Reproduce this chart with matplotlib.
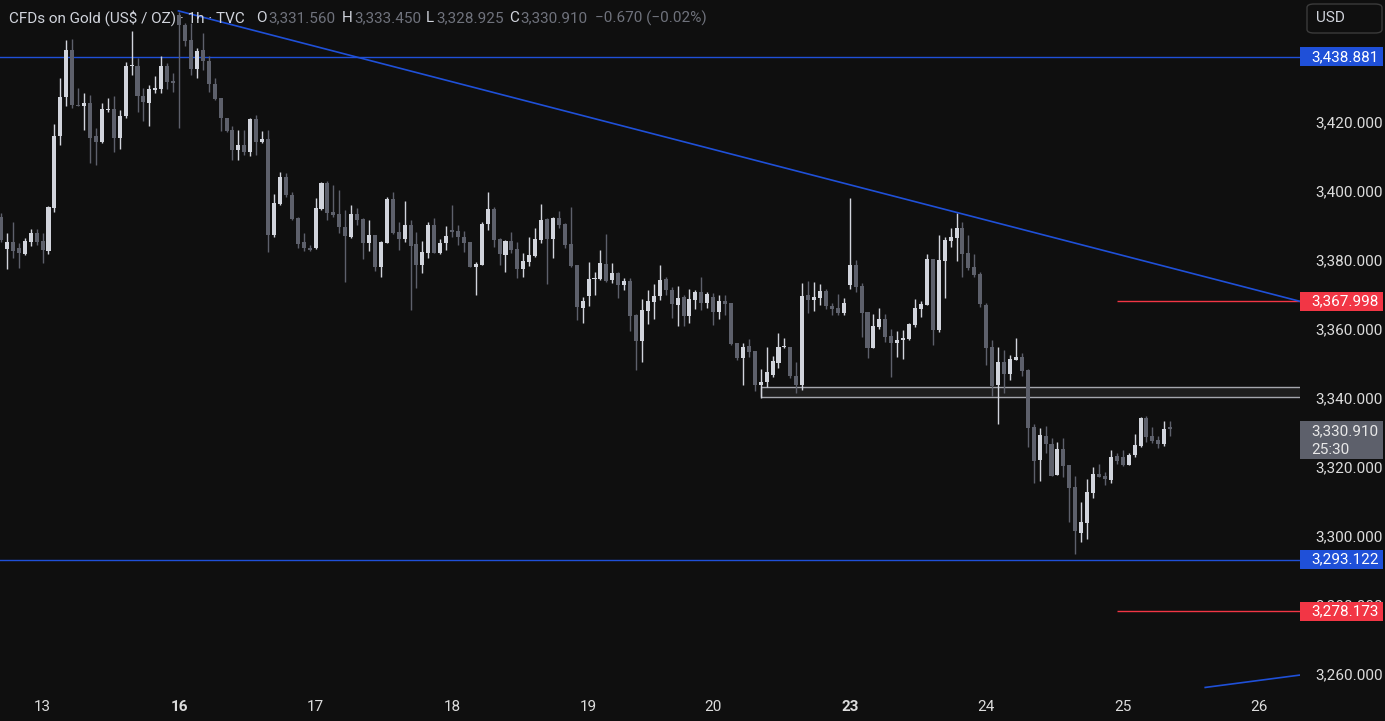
import matplotlib.pyplot as plt
from matplotlib.patches import Rectangle, FancyBboxPatch
from matplotlib.transforms import blended_transform_factory

plt.rcParams['font.family'] = ['Roboto', 'DejaVu Sans']

# hourly candles, CFDs on Gold (TVC)
opens = [3392.6, 3383.1, 3385.2, 3383.4, 3381.8, 3385.2, 3387.8, 3385.6, 3382.7, 3395.2,
         3416.0, 3427.1, 3440.9, 3425.0, 3424.5, 3425.6, 3416.0, 3414.3, 3423.6, 3423.8,
         3415.3, 3421.6, 3436.2, 3436.3, 3427.4, 3425.6, 3429.3, 3429.6, 3436.1, 3432.0,
         3451.0, 3448.0, 3443.8, 3435.4, 3440.9, 3437.7, 3431.0, 3426.9, 3421.3, 3417.7,
         3411.9, 3413.4, 3411.4, 3420.8, 3414.3, 3415.1, 3387.1, 3396.3, 3404.2, 3398.9,
         3392.1, 3385.1, 3383.6, 3383.4, 3394.8, 3402.4, 3394.0, 3393.2, 3389.5, 3386.6,
         3393.3, 3391.9, 3385.0, 3387.3, 3378.1, 3385.0, 3397.7, 3388.1, 3386.1, 3390.2,
         3384.6, 3378.6, 3382.1, 3390.0, 3381.9, 3385.0, 3388.7, 3388.5, 3386.8, 3385.3,
         3378.1, 3378.6, 3390.4, 3394.8, 3386.1, 3381.4, 3385.5, 3383.2, 3377.3, 3379.5,
         3381.3, 3385.8, 3391.9, 3386.1, 3392.3, 3390.4, 3384.6, 3378.6, 3366.0, 3369.7,
         3374.5, 3374.4, 3378.8, 3374.2, 3376.1, 3372.8, 3373.9, 3364.1, 3356.6, 3365.3,
         3367.9, 3369.6, 3374.5, 3371.3, 3367.0, 3369.4, 3363.9, 3368.4, 3370.6, 3367.6,
         3369.4, 3365.0, 3368.1, 3367.6, 3355.9, 3351.7, 3355.1, 3353.6, 3343.8, 3344.7,
         3346.7, 3350.2, 3354.7, 3354.9, 3346.4, 3343.8, 3369.9, 3368.4, 3369.1, 3371.1,
         3366.7, 3366.2, 3364.5, 3372.8, 3378.5, 3372.5, 3364.8, 3354.6, 3360.7, 3362.9,
         3358.1, 3356.0, 3356.8, 3357.0, 3361.2, 3365.8, 3367.0, 3380.3, 3359.7, 3379.8,
         3385.6, 3386.5, 3389.4, 3381.9, 3377.9, 3375.9, 3367.0, 3354.9, 3343.8, 3350.3,
         3346.9, 3351.0, 3351.8, 3348.1, 3331.5, 3322.0, 3329.0, 3326.7, 3317.7, 3325.2,
         3320.6, 3314.3, 3301.0, 3303.9, 3312.6, 3318.0, 3317.5, 3316.2, 3323.2, 3323.0,
         3320.6, 3323.5, 3326.1, 3334.1, 3329.0, 3327.8, 3326.7, 3331.56]
highs = [3393.5, 3387.8, 3391.0, 3384.9, 3386.3, 3388.9, 3388.9, 3387.8, 3395.7, 3419.5,
         3432.7, 3443.8, 3444.0, 3429.8, 3428.3, 3427.8, 3418.2, 3425.4, 3426.9, 3427.4,
         3423.5, 3437.5, 3446.4, 3438.5, 3429.8, 3430.7, 3433.2, 3439.0, 3437.0, 3434.1,
         3452.0, 3448.8, 3448.6, 3441.4, 3445.9, 3439.0, 3432.7, 3426.9, 3421.3, 3418.7,
         3417.7, 3417.7, 3421.1, 3422.1, 3417.5, 3417.7, 3399.1, 3405.4, 3405.1, 3399.6,
         3392.6, 3387.8, 3384.4, 3397.9, 3402.7, 3402.9, 3401.8, 3400.3, 3394.5, 3396.0,
         3395.2, 3392.1, 3391.6, 3387.3, 3385.6, 3398.4, 3399.7, 3391.1, 3397.1, 3391.6,
         3388.2, 3385.6, 3390.9, 3392.1, 3386.0, 3389.9, 3396.0, 3390.0, 3388.4, 3385.3,
         3379.5, 3391.1, 3399.6, 3395.5, 3386.3, 3385.8, 3388.0, 3385.1, 3381.9, 3386.8,
         3389.2, 3396.2, 3392.1, 3392.6, 3394.2, 3390.6, 3395.5, 3378.6, 3369.4, 3379.3,
         3376.6, 3382.9, 3387.5, 3379.1, 3376.6, 3374.9, 3374.7, 3364.3, 3368.7, 3371.3,
         3373.1, 3378.6, 3375.0, 3372.3, 3372.5, 3369.9, 3371.6, 3371.3, 3375.0, 3370.8,
         3370.5, 3369.9, 3369.9, 3367.6, 3355.9, 3355.9, 3357.1, 3353.6, 3348.4, 3354.7,
         3352.2, 3358.7, 3357.3, 3354.9, 3350.3, 3373.3, 3374.0, 3373.7, 3373.1, 3371.5,
         3367.4, 3370.1, 3369.1, 3398.1, 3380.0, 3373.3, 3364.8, 3364.4, 3366.0, 3364.4,
         3359.9, 3359.4, 3359.7, 3361.8, 3368.7, 3368.1, 3381.7, 3380.3, 3387.3, 3386.8,
         3389.2, 3393.5, 3391.1, 3387.3, 3381.7, 3376.6, 3367.6, 3356.8, 3354.9, 3353.9,
         3352.5, 3357.5, 3352.9, 3348.4, 3332.6, 3331.2, 3331.9, 3328.3, 3327.1, 3328.5,
         3320.6, 3317.5, 3309.9, 3316.5, 3320.1, 3320.9, 3318.6, 3324.9, 3324.1, 3324.9,
         3324.2, 3329.6, 3334.6, 3334.8, 3331.5, 3329.0, 3333.4, 3333.45]
lows = [3385.3, 3377.3, 3380.5, 3377.6, 3381.5, 3384.1, 3384.4, 3379.1, 3381.8, 3394.0,
        3413.2, 3424.5, 3424.0, 3424.5, 3417.7, 3408.0, 3407.4, 3413.8, 3423.0, 3411.2,
        3412.1, 3421.1, 3433.7, 3423.0, 3420.4, 3418.7, 3428.3, 3428.3, 3429.5, 3428.7,
        3418.4, 3441.9, 3433.7, 3432.7, 3435.1, 3428.8, 3426.4, 3417.4, 3417.2, 3409.0,
        3409.0, 3410.4, 3410.0, 3410.4, 3414.0, 3382.2, 3386.8, 3396.0, 3398.4, 3391.6,
        3383.4, 3382.7, 3382.7, 3383.1, 3394.5, 3391.6, 3392.6, 3387.8, 3373.5, 3386.3,
        3390.1, 3380.3, 3382.6, 3376.9, 3375.2, 3384.8, 3387.5, 3382.9, 3385.3, 3365.5,
        3371.8, 3376.1, 3380.7, 3381.9, 3381.7, 3382.9, 3386.8, 3384.4, 3382.4, 3378.0,
        3369.9, 3378.5, 3388.7, 3383.7, 3378.6, 3376.6, 3381.9, 3374.9, 3375.2, 3378.4,
        3381.0, 3385.0, 3373.1, 3380.7, 3389.4, 3383.6, 3377.9, 3362.6, 3361.8, 3366.8,
        3369.9, 3374.2, 3373.7, 3373.3, 3369.1, 3371.3, 3359.4, 3348.1, 3350.3, 3361.5,
        3362.9, 3368.4, 3369.9, 3363.3, 3361.0, 3361.0, 3361.7, 3365.7, 3365.5, 3366.2,
        3361.2, 3362.9, 3364.1, 3355.5, 3351.0, 3343.8, 3352.0, 3342.1, 3339.9, 3343.1,
        3346.2, 3348.6, 3354.4, 3345.9, 3341.4, 3342.3, 3364.7, 3365.3, 3367.0, 3365.8,
        3364.1, 3364.1, 3364.1, 3371.6, 3370.6, 3357.8, 3351.5, 3354.4, 3359.9, 3356.3,
        3346.2, 3352.0, 3351.2, 3356.8, 3360.7, 3363.4, 3366.9, 3355.4, 3359.2, 3369.1,
        3383.9, 3379.8, 3375.0, 3377.1, 3375.2, 3366.5, 3349.6, 3340.7, 3332.5, 3341.5,
        3345.2, 3351.0, 3346.4, 3325.9, 3315.5, 3315.9, 3324.1, 3317.5, 3317.6, 3317.2,
        3304.1, 3294.7, 3298.2, 3299.1, 3310.9, 3317.2, 3314.8, 3315.5, 3320.9, 3320.3,
        3320.5, 3323.0, 3325.9, 3327.3, 3326.9, 3325.4, 3326.2, 3328.925]
closes = [3385.8, 3385.2, 3382.7, 3382.0, 3385.6, 3387.8, 3385.1, 3382.9, 3395.5, 3416.0,
          3427.3, 3440.9, 3425.0, 3424.6, 3425.6, 3415.5, 3414.3, 3423.8, 3423.8, 3415.3,
          3421.8, 3436.3, 3436.5, 3427.4, 3425.7, 3429.6, 3429.8, 3436.3, 3431.7, 3431.2,
          3448.0, 3443.6, 3435.4, 3440.7, 3437.8, 3431.0, 3426.7, 3421.1, 3417.5, 3411.9,
          3413.4, 3411.4, 3420.8, 3414.3, 3415.1, 3387.3, 3396.6, 3404.2, 3398.9, 3391.9,
          3384.6, 3383.4, 3382.9, 3395.2, 3402.4, 3393.5, 3393.0, 3389.5, 3387.0, 3393.3,
          3391.6, 3385.0, 3387.3, 3378.1, 3385.3, 3397.7, 3387.9, 3386.1, 3390.2, 3384.2,
          3378.6, 3382.4, 3390.0, 3381.9, 3384.8, 3387.0, 3388.1, 3386.8, 3385.0, 3378.1,
          3378.8, 3390.4, 3394.8, 3385.8, 3381.7, 3385.5, 3382.9, 3377.4, 3379.7, 3381.5,
          3386.1, 3391.6, 3386.1, 3392.3, 3390.2, 3384.4, 3378.3, 3366.3, 3368.1, 3374.5,
          3374.8, 3379.1, 3374.0, 3376.1, 3372.8, 3373.9, 3363.9, 3356.6, 3365.5, 3368.1,
          3369.7, 3374.2, 3371.3, 3367.2, 3369.1, 3363.9, 3368.7, 3370.6, 3367.6, 3370.1,
          3365.0, 3368.1, 3367.2, 3355.7, 3351.5, 3354.9, 3353.4, 3343.8, 3344.5, 3347.4,
          3350.7, 3354.7, 3355.2, 3346.5, 3343.8, 3369.6, 3368.4, 3369.4, 3371.0, 3366.7,
          3365.8, 3364.7, 3367.6, 3378.5, 3372.3, 3364.7, 3354.6, 3360.9, 3362.9, 3357.8,
          3356.0, 3356.8, 3357.5, 3361.5, 3366.2, 3367.3, 3380.3, 3359.7, 3380.0, 3385.8,
          3386.8, 3389.4, 3381.7, 3377.8, 3375.7, 3367.3, 3354.6, 3343.5, 3350.3, 3346.9,
          3351.3, 3351.8, 3347.8, 3331.4, 3321.7, 3329.3, 3326.7, 3317.5, 3325.2, 3320.3,
          3314.0, 3301.5, 3304.0, 3312.7, 3318.0, 3317.2, 3316.5, 3323.0, 3321.7, 3320.6,
          3323.5, 3326.4, 3334.3, 3328.8, 3327.5, 3326.7, 3331.0, 3330.91]

day_ticks = [7, 30, 53, 76, 99, 120, 143, 166, 189, 212]
day_labels = ['13', '16', '17', '18', '19', '20', '23', '24', '25', '26']
week_starts = ['16', '23']
price_ticks = [3260, 3280, 3300, 3320, 3340, 3360, 3380, 3400, 3420]
change = -0.670
change_pct = -0.02

# drawings
resistance = 3438.881
support = 3293.122
target_up = 3367.998
target_down = 3278.173
target_start = 188
zone_start = 128
zone_low, zone_high = 3340.2, 3343.1
trend_x = [29.9, 218.9]
trend_y = [3452.2, 3368.0]
low_trend_x = [202.9, 218.9]
low_trend_y = [3256.1, 3259.7]
countdown = '25:30'

BG = '#0f0f0f'
UP = '#d1d4dc'
DOWN = '#5d606b'
BLUE = '#1f50d8'
RED = '#f23645'
TXT = '#dcdcdc'
FS = 11

W, H = 1385, 721
fig = plt.figure(figsize=(W / 100, H / 100), dpi=100, facecolor=BG)
ax = fig.add_axes([0, 31 / H, 1300 / W, 690 / H], facecolor=BG)
for s in ax.spines.values():
    s.set_visible(False)
ax.set_xlim(-0.17, 218.87)
ax.set_ylim(3255.36, 3455.36)

x = list(range(len(opens)))
colors = [UP if c >= o else DOWN for o, c in zip(opens, closes)]
bottoms = [min(o, c) for o, c in zip(opens, closes)]
heights = [max(abs(c - o), 0.3) for o, c in zip(opens, closes)]
ax.vlines(x, lows, highs, colors=colors, linewidth=1, zorder=3)
ax.bar(x, heights, bottom=bottoms, width=0.68, color=colors, linewidth=0, zorder=3)

# lines / zone
ax.axhline(resistance, color=BLUE, lw=1, zorder=2)
ax.axhline(support, color=BLUE, lw=1, zorder=2)
ax.plot(trend_x, trend_y, color=BLUE, lw=1.2, zorder=4)
ax.plot(low_trend_x, low_trend_y, color=BLUE, lw=1.2, zorder=4)
ax.hlines([target_up, target_down], target_start, 230, colors=RED, lw=1, zorder=2)
ax.add_patch(Rectangle((zone_start, zone_low), 230 - zone_start, zone_high - zone_low,
                       facecolor='#1e1e1e', edgecolor='#a5a7ae', lw=1, zorder=1))

# axes ticks
ax.set_xticks(day_ticks)
ax.set_xticklabels(day_labels)
for lab in ax.get_xticklabels():
    if lab.get_text() in week_starts:
        lab.set_fontweight('bold')
ax.set_yticks(price_ticks)
ax.set_yticklabels([f'{p:,.3f}' for p in price_ticks])
ax.yaxis.tick_right()
ax.tick_params(axis='both', length=0, colors=TXT, labelsize=FS)
ax.tick_params(axis='x', pad=7)
ax.tick_params(axis='y', pad=11)

# price labels on the scale
tr = blended_transform_factory(ax.transAxes, ax.transData)
bw = 83 / 1300
for price, col in [(resistance, BLUE), (support, BLUE), (target_up, RED), (target_down, RED)]:
    ax.add_patch(Rectangle((1.0, price - 2.75), bw, 5.5, transform=tr, facecolor=col,
                           edgecolor='none', clip_on=False, zorder=6))
    ax.text(1311 / 1300, price, f'{price:,.3f}', transform=tr, color='white', fontsize=FS,
            va='center', ha='left', clip_on=False, zorder=7)

last = closes[-1]
ax.add_patch(Rectangle((1.0, 3322.3), bw, 11.0, transform=tr, facecolor='#5d606b',
                       edgecolor='none', clip_on=False, zorder=6))
ax.text(1311 / 1300, 3330.4, f'{last:,.3f}', transform=tr, color='#e8e8e8', fontsize=FS,
        va='center', ha='left', clip_on=False, zorder=7)
ax.text(1311 / 1300, 3325.0, countdown, transform=tr, color='#e8e8e8', fontsize=FS,
        va='center', ha='left', clip_on=False, zorder=7)

# header
def px(xp, yp):
    return xp / W, 1 - yp / H

fig.text(*px(9, 18), 'CFDs on Gold (US$ / OZ) · 1h · TVC', color=UP, fontsize=FS, va='center')
GREY = '#6f727c'
hdr = [(256, 'O', UP), (268, f'{opens[-1]:,.3f}', GREY),
       (342, 'H', UP), (354, f'{highs[-1]:,.3f}', GREY),
       (426, 'L', UP), (436, f'{lows[-1]:,.3f}', GREY),
       (509, 'C', UP), (520, f'{last:,.3f}', GREY),
       (595, f'\u2212{abs(change):.3f} (\u2212{abs(change_pct):.2f}%)', GREY)]
for xp, t, c in hdr:
    fig.text(*px(xp, 18), t, color=c, fontsize=FS, va='center')

# currency button
fig.patches.append(FancyBboxPatch((1307 / W, 1 - 33 / H), 75 / W, 29 / H,
                                  boxstyle='round,pad=0,rounding_size=0.005',
                                  transform=fig.transFigure, facecolor=BG,
                                  edgecolor='#3b3b3b', lw=1))
fig.text(*px(1316, 18), 'USD', color=UP, fontsize=FS, va='center')

fig.savefig('out.png', dpi=100, facecolor=BG)
